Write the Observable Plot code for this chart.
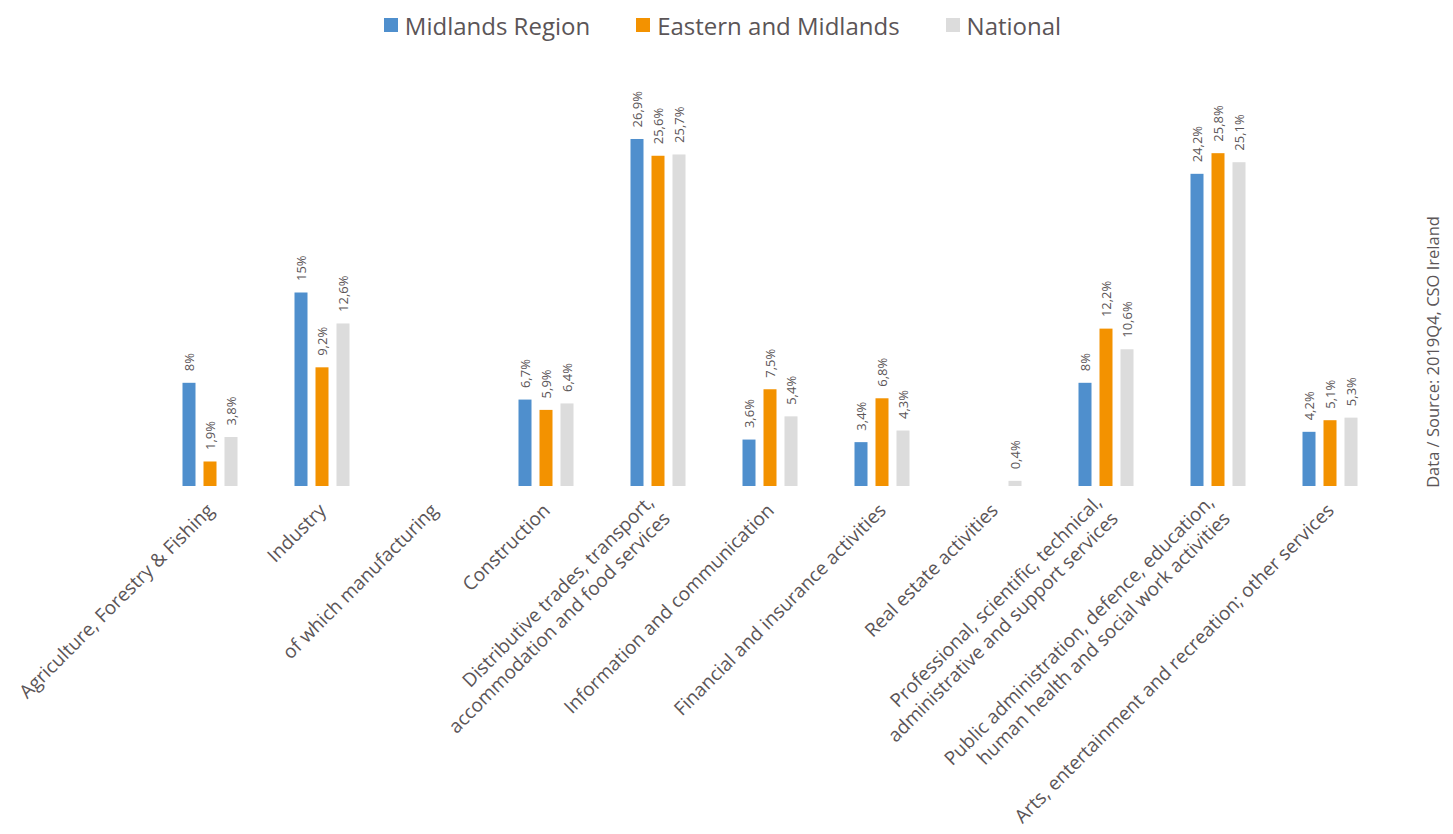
<!DOCTYPE html>
<html>
<head>
<meta charset="utf-8">
<script src="https://cdn.jsdelivr.net/npm/d3@7"></script>
<script src="https://cdn.jsdelivr.net/npm/@observablehq/plot@0.6"></script>
<style>
  html, body { margin: 0; padding: 0; background: #fff; }
  body { width: 1453px; height: 834px; position: relative; overflow: hidden; font-family: "Open Sans", sans-serif; color: #5b5557; }
  #legend { position: absolute; top: 0; left: -4px; width: 1453px; height: 50px; display: flex; justify-content: center; align-items: center; gap: 46px; font-size: 24px; }
  #legend .item { display: flex; align-items: center; }
  #legend .sw { width: 14px; height: 14px; margin-right: 7px; display: inline-block; }
  #chart { position: absolute; top: 50px; left: 0; }
  #source { position: absolute; left: 1432px; top: 352px; transform: translate(-50%, -50%) rotate(-90deg); white-space: nowrap; font-size: 16.5px; }
</style>
</head>
<body>
<div id="legend"></div>
<div id="chart"></div>
<div id="source">Data / Source: 2019Q4, CSO Ireland</div>
<script>
const categories = [
  "Agriculture, Forestry & Fishing",
  "Industry",
  "of which manufacturing",
  "Construction",
  "Distributive trades, transport, accommodation and food services",
  "Information and communication",
  "Financial and insurance activities",
  "Real estate activities",
  "Professional, scientific, technical, administrative and support services",
  "Public administration, defence, education, human health and social work activities",
  "Arts, entertainment and recreation; other services"
];
const tickLabels = [
  "Agriculture, Forestry & Fishing",
  "Industry",
  "of which manufacturing",
  "Construction",
  "Distributive trades, transport,\naccommodation and food services",
  "Information and communication",
  "Financial and insurance activities",
  "Real estate activities",
  "Professional, scientific, technical,\nadministrative and support services",
  "Public administration, defence, education,\nhuman health and social work activities",
  "Arts, entertainment and recreation; other services"
];
const series = ["Midlands Region", "Eastern and Midlands", "National"];
const midlandsRegion     = [8, 15, null, 6.7, 26.9, 3.6, 3.4, null, 8, 24.2, 4.2];
const easternAndMidlands = [1.9, 9.2, null, 5.9, 25.6, 7.5, 6.8, null, 12.2, 25.8, 5.1];
const national           = [3.8, 12.6, null, 6.4, 25.7, 5.4, 4.3, 0.4, 10.6, 25.1, 5.3];
const colors = ["#4f8fcd", "#f39200", "#dcdcdc"];

const valuesBySeries = [midlandsRegion, easternAndMidlands, national];
const rows = [];
categories.forEach((c, i) => {
  series.forEach((s, j) => {
    const v = valuesBySeries[j][i];
    if (v != null) rows.push({category: c, series: s, value: v});
  });
});

const fmt = v => String(v).replace(".", ",") + "%";
const textColor = "#5b5557";

const chart = Plot.plot({
  width: 1453,
  height: 784,
  marginTop: 49,
  marginBottom: 348,
  marginLeft: 126.5,
  marginRight: 39.5,
  style: {fontFamily: "Open Sans, sans-serif", color: textColor, background: "transparent"},
  fx: {
    domain: categories,
    paddingInner: 0.49,
    paddingOuter: 0.49,
    label: null
  },
  x: {domain: series, axis: null, paddingInner: 0.4, paddingOuter: 0},
  y: {domain: [0, 30], axis: null},
  color: {domain: series, range: colors},
  marks: [
    Plot.axisFx({anchor: "bottom", tickSize: 0, tickPadding: 20, tickRotate: -45, fontSize: 19, lineHeight: 1.2,
      label: null, tickFormat: c => tickLabels[categories.indexOf(c)], fill: textColor}),
    Plot.barY(rows, {fx: "category", x: "series", y: "value", fill: "series"}),
    Plot.text(rows, {fx: "category", x: "series", y: "value", text: d => fmt(d.value),
      rotate: -90, textAnchor: "start", dy: -12, fontSize: 13, fill: textColor})
  ]
});
document.getElementById("chart").appendChild(chart);

const legend = document.getElementById("legend");
series.forEach((s, j) => {
  const item = document.createElement("div");
  item.className = "item";
  const sw = document.createElement("span");
  sw.className = "sw";
  sw.style.background = colors[j];
  item.appendChild(sw);
  item.appendChild(document.createTextNode(s));
  legend.appendChild(item);
});
</script>
</body>
</html>
